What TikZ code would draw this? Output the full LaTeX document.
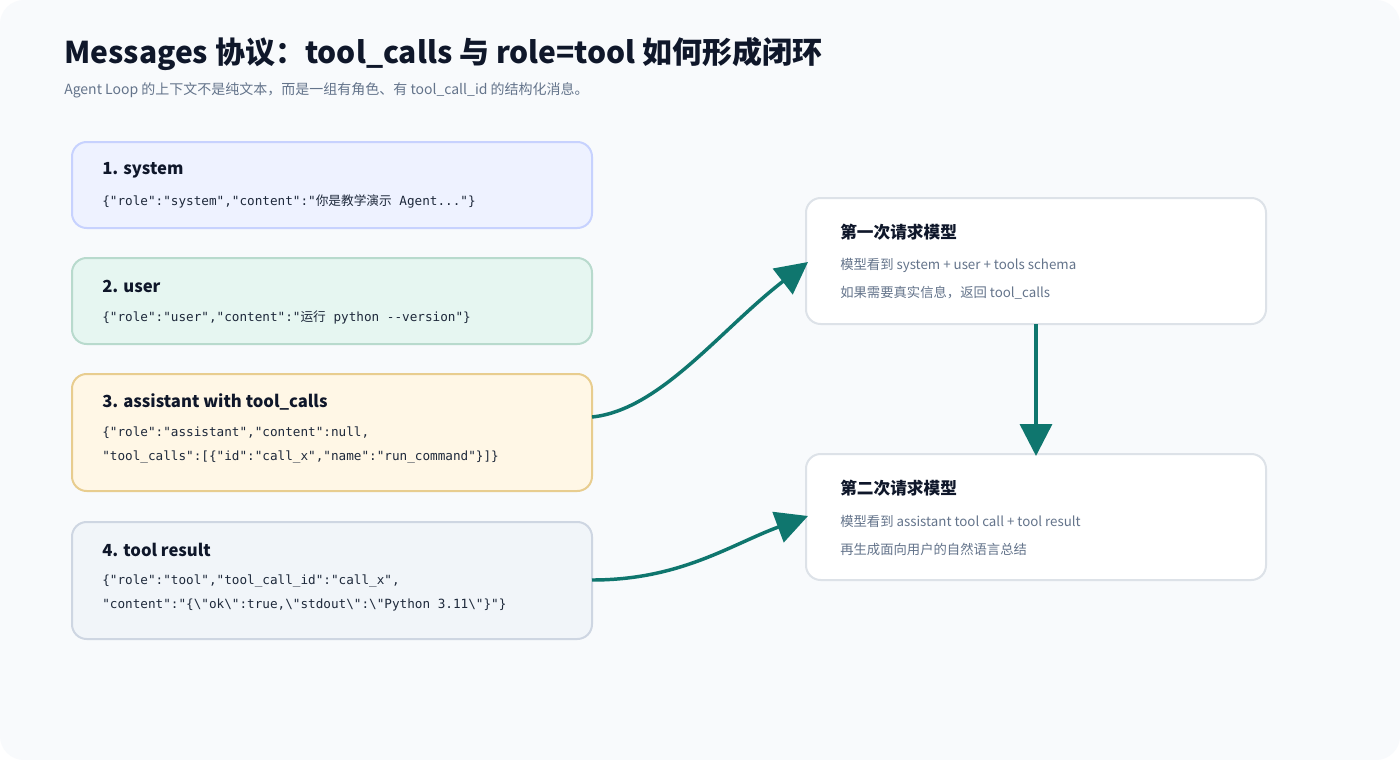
\documentclass[tikz,border=0pt]{standalone}
\usepackage{fontspec}
\setmainfont{Noto Sans CJK SC}
\newfontfamily\cjk{Noto Sans CJK SC}
\setmonofont{DejaVu Sans Mono}
\usetikzlibrary{arrows.meta}
\definecolor{bg}{HTML}{F8FAFC}
\definecolor{ink}{HTML}{0F172A}
\definecolor{grey}{HTML}{64748B}
\definecolor{mono}{HTML}{1E293B}
\definecolor{teal}{HTML}{0F766E}
\newcommand{\zh}[1]{{\cjk #1}}
\newcommand{\bs}{\textbackslash}
\begin{document}
\begin{tikzpicture}[x=0.75pt,y=-0.75pt,
 box/.style={draw,line width=1.5pt,rounded corners=11pt},
 ttl/.style={anchor=west,font=\fontsize{12.5}{14}\selectfont\bfseries,text=ink,inner sep=0},
 mn/.style={anchor=west,font=\fontsize{9.5}{11}\ttfamily,text=mono,inner sep=0},
 gr/.style={anchor=west,font=\fontsize{10}{12}\selectfont,text=grey,inner sep=0},
 arr/.style={draw=teal,line width=2.6pt,-{Triangle[length=24pt,width=24pt]}}]
\useasboundingbox (0,0) rectangle (1400,760);
\fill[white] (0,0) rectangle (1400,760);
\fill[bg,rounded corners=18pt] (0,0) rectangle (1400,760);
\node[anchor=west,inner sep=0,font=\fontsize{22.5}{26}\selectfont\bfseries,text=ink] (title) at (64,54) {Messages 协议：tool\_calls 与 role=tool 如何形成闭环};
\node[gr,font=\fontsize{10.5}{12}\selectfont] (sub) at (64,90) {Agent Loop 的上下文不是纯文本，而是一组有角色、有 tool\_call\_id 的结构化消息。};
% left boxes
\draw[box,draw={rgb,255:red,199;green,210;blue,254},fill={rgb,255:red,238;green,242;blue,255}] (72,142) rectangle (592,228);
\node[ttl] (t1) at (102,170) {1. system};
\node[mn] (m1) at (102,201) {\{"role":"system","content":"\zh{你是教学演示} Agent..."\}};
\draw[box,draw={rgb,255:red,184;green,218;blue,205},fill={rgb,255:red,230;green,246;blue,241}] (72,258) rectangle (592,344);
\node[ttl] (t2) at (102,286) {2. user};
\node[mn] (m2) at (102,317) {\{"role":"user","content":"\zh{运行} python -{}-version"\}};
\draw[box,draw={rgb,255:red,232;green,205;blue,143},fill={rgb,255:red,255;green,247;blue,230}] (72,374) rectangle (592,491);
\node[ttl] (t3) at (102,402) {3. assistant with tool\_calls};
\node[mn] (m3a) at (102,433) {\{"role":"assistant","content":null,};
\node[mn] (m3b) at (102,457) {"tool\_calls":[\{"id":"call\_x","name":"run\_command"\}]\}};
\draw[box,draw={rgb,255:red,206;green,214;blue,226},fill={rgb,255:red,241;green,245;blue,249}] (72,522) rectangle (592,639);
\node[ttl] (t4) at (102,550) {4. tool result};
\node[mn] (m4a) at (102,581) {\{"role":"tool","tool\_call\_id":"call\_x",};
\node[mn] (m4b) at (102,605) {"content":"\{\bs"ok\bs":true,\bs"stdout\bs":\bs"Python 3.11\bs"\}"\}};
% right boxes
\draw[box,draw={rgb,255:red,221;green,226;blue,232},fill=white] (806,198) rectangle (1266,324);
\node[ttl] (r1) at (840,232) {第一次请求模型};
\node[gr] (r1a) at (840,265) {模型看到 system + user + tools schema};
\node[gr] (r1b) at (840,293) {如果需要真实信息，返回 tool\_calls};
\draw[box,draw={rgb,255:red,221;green,226;blue,232},fill=white] (806,454) rectangle (1266,580);
\node[ttl] (r2) at (840,488) {第二次请求模型};
\node[gr] (r2a) at (840,521) {模型看到 assistant tool call + tool result};
\node[gr] (r2b) at (840,549) {再生成面向用户的自然语言总结};
\coordinate (a1s) at (592,417); \coordinate (a1e) at (808,262);
\coordinate (a2s) at (1036,324); \coordinate (a2e) at (1036,456);
\coordinate (a3s) at (592,580); \coordinate (a3e) at (808,516);
\draw[arr] (a1s) .. controls (660,410) and (720,330) .. (a1e);
\draw[arr] (a2s) -- (a2e);
\draw[arr] (a3s) .. controls (680,580) and (730,545) .. (a3e);
\end{tikzpicture}
\end{document}
